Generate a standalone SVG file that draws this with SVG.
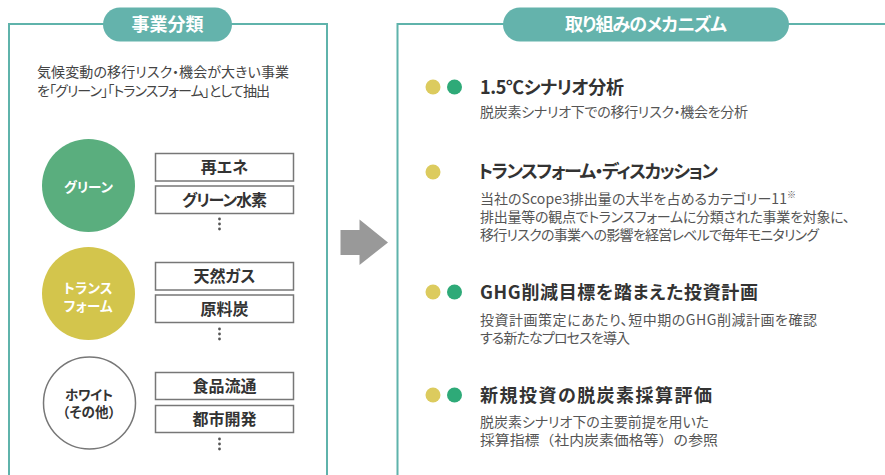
<svg xmlns="http://www.w3.org/2000/svg" width="885" height="475" viewBox="0 0 885 475">
<style>
text{font-family:"Noto Sans CJK JP","Noto Sans",sans-serif;font-feature-settings:"palt";}
.nopalt{font-feature-settings:normal;}
.panel{fill:none;stroke:#5fb3ab;stroke-width:2;}
.pill{fill:#64b3ac;}
.pilltxt{fill:#fff;font-size:18px;font-weight:bold;text-anchor:middle;}
.desc{fill:#444;font-size:14px;}
.ctxt{font-size:13.5px;font-weight:bold;text-anchor:middle;}
.box{fill:#fff;stroke:#777;stroke-width:1.5;}
.btxt{fill:#333;font-size:16px;font-weight:bold;text-anchor:middle;}
.vdots{fill:#555;}
.ttl{fill:#333;font-size:18px;font-weight:bold;}
.sub{fill:#555;font-size:14px;}
.dy{fill:#dccb5e;}
.dg{fill:#2eaa78;}
</style>
<rect width="885" height="475" fill="#fff"/>

<g id="panel-left">
<path class="panel" d="M9,476 V24 H327 V476"/>
<rect class="pill" x="103" y="7.5" width="129" height="34" rx="17"/>
<text class="pilltxt" x="167.5" y="31">事業分類</text>
<text class="desc" x="37" y="77" textLength="252">気候変動の移行リスク・機会が大きい事業</text>
<text class="desc" x="37" y="96" textLength="233">を「グリーン」「トランスフォーム」として抽出</text>
</g>

<g id="cat-green">
<circle cx="88.5" cy="185.5" r="46.5" fill="#5aae7e"/>
<text class="ctxt" fill="#fff" x="88.5" y="192" textLength="49">グリーン</text>
</g>
<g id="cat-transform">
<circle cx="88.5" cy="293.5" r="46.5" fill="#d3c54c"/>
<text class="ctxt" fill="#fff" x="88" y="293" textLength="49">トランス</text>
<text class="ctxt" fill="#fff" x="88" y="311" textLength="49">フォーム</text>
</g>
<g id="cat-white">
<circle cx="89.5" cy="403" r="46" fill="#fff" stroke="#777" stroke-width="1.5"/>
<text class="ctxt" fill="#333" x="89" y="400" textLength="48">ホワイト</text>
<text class="ctxt" fill="#333" x="89" y="417" textLength="53">（その他）</text>
</g>

<g id="item-saiene"><rect class="box" x="155.5" y="153.5" width="138" height="27.5"/><text class="btxt" x="224.5" y="173">再エネ</text></g>
<g id="item-h2"><rect class="box" x="155.5" y="186" width="138" height="27.5"/><text class="btxt" x="224.5" y="205.5" textLength="85">グリーン水素</text></g>
<g id="dots-1" class="vdots"><circle cx="219.5" cy="219" r="1.4"/><circle cx="219.5" cy="224" r="1.4"/><circle cx="219.5" cy="229" r="1.4"/></g>

<g id="item-gas"><rect class="box" x="155.5" y="262.5" width="138" height="27.5"/><text class="btxt" x="224.5" y="282">天然ガス</text></g>
<g id="item-coal"><rect class="box" x="155.5" y="295" width="138" height="27.5"/><text class="btxt" x="224.5" y="314.5">原料炭</text></g>
<g id="dots-2" class="vdots"><circle cx="219.5" cy="329" r="1.4"/><circle cx="219.5" cy="334" r="1.4"/><circle cx="219.5" cy="339" r="1.4"/></g>

<g id="item-food"><rect class="box" x="155.5" y="372.5" width="138" height="27"/><text class="btxt" x="224.5" y="391.5">食品流通</text></g>
<g id="item-urban"><rect class="box" x="155.5" y="405.5" width="138" height="27"/><text class="btxt" x="224.5" y="424.5">都市開発</text></g>
<g id="dots-3" class="vdots"><circle cx="219.5" cy="439" r="1.4"/><circle cx="219.5" cy="444" r="1.4"/><circle cx="219.5" cy="449" r="1.4"/></g>

<g id="connectors">
<polygon points="340.5,230 359.5,230 359.5,219.5 388,242.5 359.5,265 359.5,255 340.5,255" fill="#999"/>
</g>

<g id="panel-right">
<path class="panel" d="M397.5,476 V24 H886"/>
<rect class="pill" x="503" y="7.5" width="286" height="34" rx="17"/>
<text class="pilltxt" x="646" y="31" textLength="162">取り組みのメカニズム</text>
</g>

<g id="mech-1">
<circle class="dy" cx="433" cy="87" r="7.5"/><circle class="dg" cx="454.5" cy="87" r="7.5"/>
<text class="ttl" x="480" y="94" textLength="144">1.5℃シナリオ分析</text>
<text class="sub" x="480" y="117" textLength="268">脱炭素シナリオ下での移行リスク・機会を分析</text>
</g>
<g id="mech-2">
<circle class="dy" cx="433" cy="172" r="7.5"/>
<text class="ttl" x="478" y="178" textLength="240">トランスフォーム・ディスカッション</text>
<text class="sub" x="480" y="204" textLength="316">当社のScope3排出量の大半を占めるカテゴリー11<tspan font-size="9" dy="-6">※</tspan></text>
<text class="sub" x="480" y="222" textLength="370">排出量等の観点でトランスフォームに分類された事業を対象に、</text>
<text class="sub" x="480" y="240" textLength="339">移行リスクの事業への影響を経営レベルで毎年モニタリング</text>
</g>
<g id="mech-3">
<circle class="dy" cx="433" cy="292" r="7.5"/><circle class="dg" cx="454.5" cy="292" r="7.5"/>
<text class="ttl" x="480" y="299" textLength="278">GHG削減目標を踏まえた投資計画</text>
<text class="sub" x="480" y="325" textLength="337">投資計画策定にあたり、短中期のGHG削減計画を確認</text>
<text class="sub" x="480" y="343" textLength="150">する新たなプロセスを導入</text>
</g>
<g id="mech-4">
<circle class="dy" cx="433" cy="395" r="7.5"/><circle class="dg" cx="454.5" cy="395" r="7.5"/>
<text class="ttl" x="480" y="402" textLength="232">新規投資の脱炭素採算評価</text>
<text class="sub" x="480" y="427" textLength="229">脱炭素シナリオ下の主要前提を用いた</text>
<text class="sub nopalt" x="480" y="445" textLength="238" lengthAdjust="spacingAndGlyphs">採算指標（社内炭素価格等）の参照</text>
</g>
</svg>
